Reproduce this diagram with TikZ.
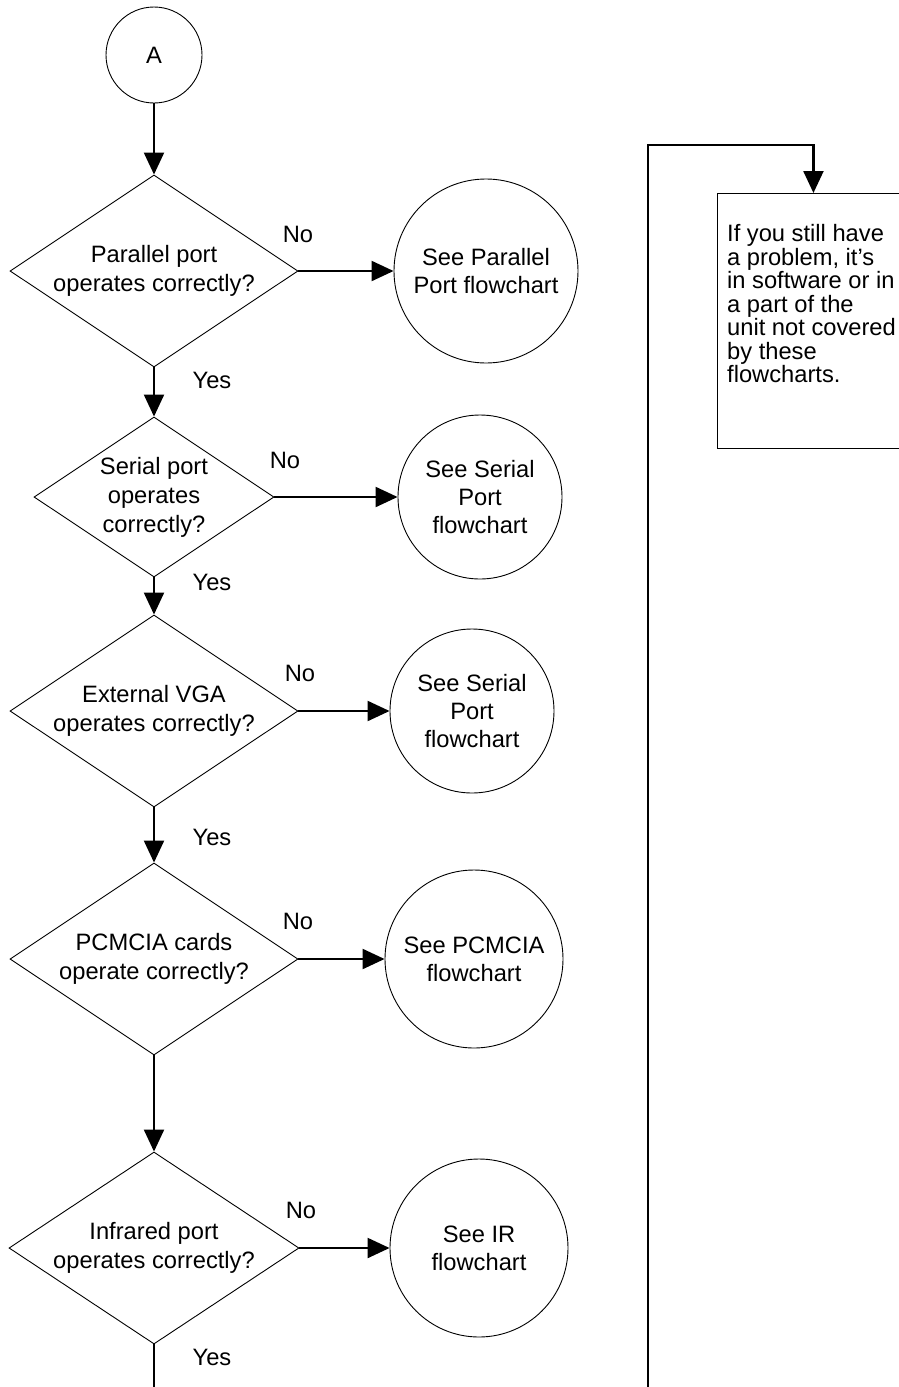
\documentclass[tikz,border=0pt]{standalone}
\usepackage{fontspec}
\setmainfont{Liberation Sans}
\usetikzlibrary{shapes.geometric,arrows.meta}
\begin{document}
\begin{tikzpicture}[x=1pt,y=-1pt,
  dec/.style={diamond, aspect=1.5, draw, line width=0.9pt, inner sep=0pt, align=center,
    minimum width=288pt, minimum height=192pt, font=\fontsize{23.7}{29}\selectfont},
  term/.style={circle, draw, line width=0.9pt, inner sep=0pt, align=center,
    font=\fontsize{23.7}{28}\selectfont},
  lbl/.style={inner sep=0pt, font=\fontsize{23.7}{28}\selectfont},
  conn/.style={line width=2.2pt, -{Triangle[length=22pt,width=20pt]}},
  plainline/.style={line width=2.2pt}
]
\useasboundingbox (0,0) rectangle (899,1387);

\node[term, minimum size=96pt] (A) at (154,55) {A};

\node[dec] (d1) at (154,271) {Parallel port\\operates correctly?};
\node[term, minimum size=184pt] (c1) at (486,271) {See Parallel\\Port flowchart};

\node[dec, minimum width=240pt, minimum height=160pt] (d2) at (154,497) {Serial port\\operates\\correctly?};
\node[term, minimum size=164pt] (c2) at (480,497) {See Serial\\Port\\flowchart};

\node[dec] (d3) at (154,711) {External VGA\\operates correctly?};
\node[term, minimum size=164pt] (c3) at (472,711) {See Serial\\Port\\flowchart};

\node[dec] (d4) at (154,959) {PCMCIA cards\\operate correctly?};
\node[term, minimum size=178pt] (c4) at (474,959) {See PCMCIA\\flowchart};

\node[dec, minimum width=290pt] (d5) at (154,1248) {Infrared port\\operates correctly?};
\node[term, minimum size=178pt] (c5) at (479,1248) {See IR\\flowchart};

\node[lbl] (no1) at (298,234) {No};
\node[lbl] (yes1) at (212,380) {Yes};
\node[lbl] (no2) at (285,460) {No};
\node[lbl] (yes2) at (212,582) {Yes};
\node[lbl] (no3) at (300,673) {No};
\node[lbl] (yes3) at (212,837) {Yes};
\node[lbl] (no4) at (298,921) {No};
\node[lbl] (no5) at (301,1210) {No};
\node[lbl] (yes5) at (212,1357) {Yes};

\node[draw, line width=0.9pt, anchor=north west, minimum width=192pt, minimum height=255pt, inner sep=0pt] (box) at (717,193) {};
\node[anchor=north west, inner sep=0pt, align=left, font=\fontsize{23.7}{23.5}\selectfont] (boxtext) at (727,224.5)
  {If you still have\\a problem, it’s\\in software or in\\a part of the\\unit not covered\\by these\\flowcharts.};

\draw[conn] (A) -- (d1);
\draw[conn] (d1) -- (c1);
\draw[conn] (d1) -- (d2);
\draw[conn] (d2) -- (c2);
\draw[conn] (d2) -- (d3);
\draw[conn] (d3) -- (c3);
\draw[conn] (d3) -- (d4);
\draw[conn] (d4) -- (c4);
\draw[conn] (d4) -- (d5);
\draw[conn] (d5) -- (c5);

\coordinate (bot) at (154,1400);
\draw[plainline] (d5.south) -- (bot);

\coordinate (lbot) at (648,1400);
\coordinate (ltop) at (648,145);
\draw[conn] (lbot) -- (ltop) -| (box.north);
\end{tikzpicture}
\end{document}
